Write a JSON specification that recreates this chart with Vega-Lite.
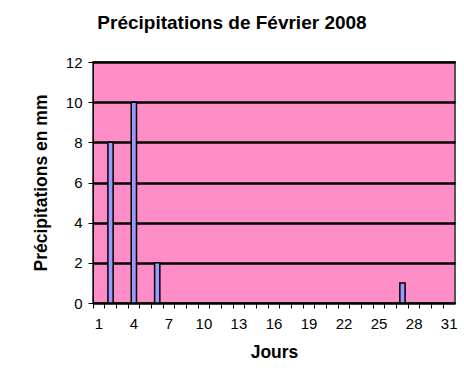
{
  "$schema": "https://vega.github.io/schema/vega-lite/v6.json",
  "autosize": "none",
  "width": 362,
  "height": 241,
  "padding": {"left": 93, "top": 62, "right": 9, "bottom": 73},
  "background": "white",
  "title": {
    "text": "Précipitations de Février 2008",
    "font": "Liberation Sans",
    "fontSize": 19,
    "fontWeight": "bold",
    "color": "black",
    "anchor": "middle",
    "dx": -42,
    "offset": 22
  },
  "data": {
    "values": [
      {"jour": 2, "mm": 8},
      {"jour": 4, "mm": 10},
      {"jour": 6, "mm": 2},
      {"jour": 27, "mm": 1}
    ]
  },
  "mark": {"type": "bar", "fill": "#9999FF", "stroke": "black", "strokeWidth": 1.5, "width": {"band": 0.45}},
  "encoding": {
    "x": {
      "field": "jour",
      "type": "ordinal",
      "scale": {"domain": [1,2,3,4,5,6,7,8,9,10,11,12,13,14,15,16,17,18,19,20,21,22,23,24,25,26,27,28,29,30,31], "paddingInner": 0, "paddingOuter": 0},
      "axis": {
        "title": "Jours",
        "titleFont": "Liberation Sans",
        "titleFontSize": 17.5,
        "titleFontWeight": "bold",
        "titleColor": "black",
        "titlePadding": 12,
        "labelAngle": 0,
        "labelFont": "Liberation Sans",
        "labelFontSize": 15,
        "labelColor": "black",
        "labelPadding": 8,
        "labelExpr": "datum.value % 3 == 1 ? datum.value : ''",
        "bandPosition": 0,
        "tickColor": "black",
        "tickSize": 5,
        "domainColor": "black",
        "domainWidth": 1,
        "grid": false
      }
    },
    "y": {
      "field": "mm",
      "type": "quantitative",
      "scale": {"domain": [0, 12], "nice": false},
      "axis": {
        "title": "Précipitations en mm",
        "titleFont": "Liberation Sans",
        "titleFontSize": 17.5,
        "titleFontWeight": "bold",
        "titleColor": "black",
        "titlePadding": 15,
        "values": [0, 2, 4, 6, 8, 10, 12],
        "labelFont": "Liberation Sans",
        "labelFontSize": 15,
        "labelColor": "black",
        "labelPadding": 6,
        "tickColor": "black",
        "tickSize": 5,
        "domainColor": "black",
        "grid": true,
        "gridColor": "black",
        "gridWidth": 2.5
      }
    }
  },
  "config": {
    "view": {"fill": "#FF8EC8", "stroke": "#555555", "strokeWidth": 2}
  }
}
